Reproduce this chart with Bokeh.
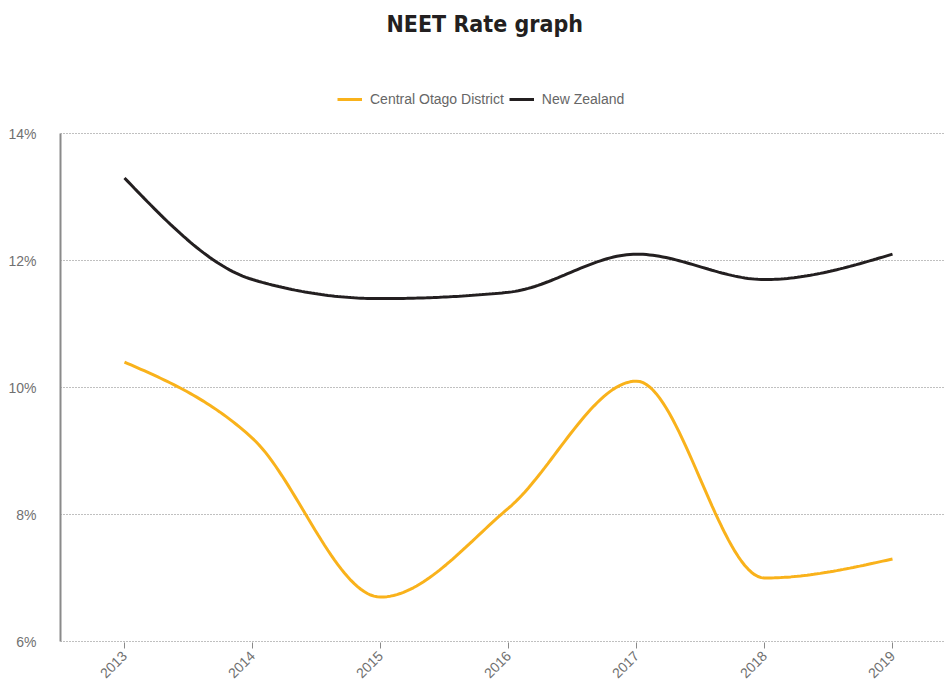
import numpy as np
from bokeh.plotting import figure
from bokeh.models import Range1d, Legend, LegendItem, FixedTicker, CustomJSTickFormatter
from bokeh.embed import file_html
from bokeh.resources import INLINE

years = [2013, 2014, 2015, 2016, 2017, 2018, 2019]
central_otago = [10.4, 9.2, 6.7, 8.1, 10.1, 7.0, 7.3]
new_zealand = [13.3, 11.7, 11.4, 11.5, 12.1, 11.7, 12.1]
y_ticks = [6, 8, 10, 12, 14]

CO_COLOR = "#f9b21b"
NZ_COLOR = "#231f20"

# layout (pixels)
FRAME_TOP = 38
FRAME_BOTTOM = 642
PX_PER_UNIT = (641 - 133) / 8.0


def monotone_curve(xs, ys, steps=40):
    """Render path of a monotone-X cubic through the data (drawing only)."""
    xs = np.asarray(xs, float)
    ys = np.asarray(ys, float)
    h = np.diff(xs)
    s = np.diff(ys) / h
    n = len(xs)
    t = np.zeros(n)
    for i in range(1, n - 1):
        h0, h1, s0, s1 = h[i - 1], h[i], s[i - 1], s[i]
        p = (s0 * h1 + s1 * h0) / (h0 + h1)
        t[i] = (np.sign(s0) + np.sign(s1)) * min(abs(s0), abs(s1), 0.5 * abs(p))
    t[0] = (3 * s[0] - t[1]) / 2
    t[-1] = (3 * s[-1] - t[-2]) / 2
    px, py = [], []
    u = np.linspace(0, 1, steps)
    for i in range(n - 1):
        dx = h[i]
        p0 = (xs[i], ys[i])
        p1 = (xs[i] + dx / 3, ys[i] + dx * t[i] / 3)
        p2 = (xs[i + 1] - dx / 3, ys[i + 1] - dx * t[i + 1] / 3)
        p3 = (xs[i + 1], ys[i + 1])
        bx = (1 - u) ** 3 * p0[0] + 3 * (1 - u) ** 2 * u * p1[0] + 3 * (1 - u) * u ** 2 * p2[0] + u ** 3 * p3[0]
        by = (1 - u) ** 3 * p0[1] + 3 * (1 - u) ** 2 * u * p1[1] + 3 * (1 - u) * u ** 2 * p2[1] + u ** 3 * p3[1]
        if i > 0:
            bx, by = bx[1:], by[1:]
        px.extend(bx.tolist())
        py.extend(by.tolist())
    return px, py


y_top = 14 + (133 - FRAME_TOP) / PX_PER_UNIT
y_bottom = 6 - (FRAME_BOTTOM - 641) / PX_PER_UNIT

p = figure(
    frame_width=884, frame_height=FRAME_BOTTOM - FRAME_TOP,
    output_backend="svg", toolbar_location=None,
    x_range=Range1d(2012.5, 2019.40625),
    y_range=Range1d(y_bottom, y_top),
    min_border_left=60, min_border_right=0,
    min_border_top=FRAME_TOP, min_border_bottom=688 - FRAME_BOTTOM,
    background_fill_color="white", border_fill_color="white",
    outline_line_color=None,
)

p.title.text = "NEET Rate graph"
p.title.align = "left"
p.title.offset = 326
p.title.text_font = "Liberation Sans Narrow, DejaVu Sans Condensed, sans-serif"
p.title.text_font_style = "bold"
p.title.text_font_size = "23px"
p.title.text_color = "#231f20"
p.title.standoff = 4

cx, cy = monotone_curve(years, central_otago)
nx, ny = monotone_curve(years, new_zealand)
r_co = p.line(cx, cy, line_color=CO_COLOR, line_width=3)
r_nz = p.line(nx, ny, line_color=NZ_COLOR, line_width=3)

legend = Legend(
    items=[LegendItem(label="Central Otago District", renderers=[r_co]),
           LegendItem(label="New Zealand", renderers=[r_nz])],
    orientation="horizontal",
    location=(277, (FRAME_BOTTOM - 99) - 10),
    label_text_font="Liberation Sans",
    label_text_font_size="14px",
    label_text_color="#666666",
    glyph_width=25, glyph_height=20,
    label_standoff=8, spacing=5, padding=0, margin=0,
    border_line_color=None, background_fill_alpha=0,
)
p.add_layout(legend, "center")

# grid
p.xgrid.grid_line_color = None
p.ygrid.grid_line_color = "#808080"
p.ygrid.grid_line_dash = "1 2"
p.ygrid.grid_line_width = 1
p.ygrid.ticker = FixedTicker(ticks=y_ticks)

# y axis
p.yaxis.ticker = FixedTicker(ticks=y_ticks)
p.yaxis.bounds = (6, 14)
p.yaxis.formatter = CustomJSTickFormatter(code="return tick + '%';")
p.yaxis.axis_line_color = "#8a8a8a"
p.yaxis.axis_line_width = 2
p.yaxis.major_tick_line_color = None
p.yaxis.minor_tick_line_color = None
p.yaxis.major_label_standoff = 18
p.yaxis.major_label_text_font = "Liberation Sans"
p.yaxis.major_label_text_font_size = "14px"
p.yaxis.major_label_text_color = "#707070"

# x axis
p.xaxis.ticker = FixedTicker(ticks=years)
p.xaxis.axis_line_color = None
p.xaxis.major_tick_line_color = "#8a8a8a"
p.xaxis.major_tick_line_width = 1
p.xaxis.major_tick_in = 0
p.xaxis.major_tick_out = 6
p.xaxis.minor_tick_line_color = None
p.xaxis.major_label_orientation = np.pi / 4
p.xaxis.major_label_standoff = 5
p.xaxis.major_label_text_font = "Liberation Sans"
p.xaxis.major_label_text_font_size = "14px"
p.xaxis.major_label_text_color = "#707070"

open("out.html", "w").write(file_html(p, INLINE))
